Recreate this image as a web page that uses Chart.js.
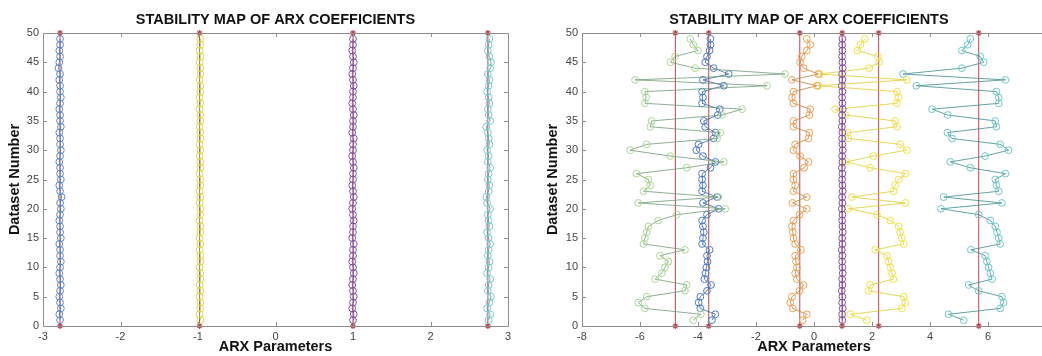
<!DOCTYPE html>
<html>
<head>
<meta charset="utf-8">
<script src="https://cdn.jsdelivr.net/npm/chart.js@4.4.1/dist/chart.umd.min.js"></script>
<style>
  html, body { margin: 0; padding: 0; background: #fff; overflow: hidden; width: 1042px; height: 356px; }
  #left { position: absolute; left: 0; top: 0; }
  #right { position: absolute; left: 520px; top: 0; }
</style>
</head>
<body>
<canvas id="left" width="520" height="356"></canvas>
<canvas id="right" width="540" height="356"></canvas>
<script>
// dataset numbers 1..49 (y axis)
const datasetNumbers = [1,2,3,4,5,6,7,8,9,10,11,12,13,14,15,16,17,18,19,20,21,22,23,24,25,26,27,28,29,30,31,32,33,34,35,36,37,38,39,40,41,42,43,44,45,46,47,48,49];
const yTicks = [0,5,10,15,20,25,30,35,40,45,50];
const leftXTicks = [-3,-2,-1,0,1,2,3];
const rightXTicks = [-8,-6,-4,-2,0,2,4,6,8];
const chartTitle = 'STABILITY MAP OF ARX COEFFICIENTS';

// left plot: four stable coefficients
const leftBlue = [-2.78,-2.79,-2.77,-2.78,-2.79,-2.78,-2.77,-2.78,-2.79,-2.78,-2.77,-2.78,-2.78,-2.79,-2.77,-2.78,-2.78,-2.79,-2.78,-2.77,-2.78,-2.76,-2.78,-2.79,-2.77,-2.78,-2.78,-2.79,-2.78,-2.77,-2.78,-2.78,-2.79,-2.77,-2.78,-2.78,-2.79,-2.78,-2.77,-2.78,-2.78,-2.79,-2.78,-2.80,-2.79,-2.78,-2.79,-2.78,-2.78];
const leftYellow = [-0.97,-0.98,-0.97,-0.97,-0.98,-0.97,-0.98,-0.97,-0.97,-0.98,-0.97,-0.97,-0.98,-0.97,-0.98,-0.97,-0.97,-0.98,-0.97,-0.97,-0.98,-0.97,-0.98,-0.97,-0.97,-0.98,-0.97,-0.97,-0.98,-0.97,-0.98,-0.97,-0.97,-0.98,-0.97,-0.97,-0.98,-0.97,-0.98,-0.97,-0.97,-0.98,-0.97,-0.97,-0.98,-0.97,-0.98,-0.97,-0.97];
const leftPurple = [1.00,1.01,0.99,1.00,1.01,1.00,0.99,1.00,1.01,1.00,0.99,1.00,1.00,1.01,0.99,1.00,1.00,1.01,1.00,0.99,1.00,1.01,1.00,0.99,1.00,1.00,1.01,1.00,0.99,1.00,1.00,1.01,0.99,1.00,1.00,1.01,1.00,0.99,1.00,1.00,1.01,1.00,0.99,1.00,1.01,1.00,0.99,1.00,1.00];
const leftCyan = [2.75,2.77,2.73,2.76,2.78,2.74,2.75,2.77,2.73,2.75,2.76,2.74,2.75,2.77,2.75,2.73,2.76,2.75,2.74,2.77,2.73,2.72,2.75,2.76,2.74,2.75,2.77,2.74,2.75,2.73,2.76,2.75,2.74,2.72,2.77,2.75,2.74,2.76,2.75,2.73,2.75,2.76,2.74,2.77,2.78,2.76,2.74,2.75,2.76];
const leftMeans = [-2.78, -0.98, 1.0, 2.74];

// right plot: six fluctuating coefficients
const rightGreen = [-4.16,-3.9,-5.83,-6.06,-5.77,-4.45,-4.39,-5.48,-5.25,-5.14,-5.02,-5.31,-4.45,-5.88,-5.83,-5.77,-5.71,-5.37,-4.73,-3.06,-6.06,-3.3,-5.88,-5.65,-5.71,-6.12,-4.39,-3.11,-4.96,-6.34,-5.77,-3.34,-3.23,-5.65,-5.6,-3.17,-2.48,-5.83,-5.79,-5.83,-1.62,-6.17,-1.0,-4.1,-4.95,-4.79,-4.0,-4.16,-4.27];
const rightBlue = [-3.52,-3.4,-3.92,-3.98,-3.92,-3.69,-3.55,-3.78,-3.74,-3.71,-3.67,-3.69,-3.6,-3.86,-3.83,-3.8,-3.83,-3.86,-3.69,-3.29,-3.83,-3.34,-3.86,-3.83,-3.86,-3.86,-3.57,-3.4,-3.83,-4.06,-3.98,-3.46,-3.4,-3.75,-3.8,-3.32,-3.25,-3.86,-3.83,-3.86,-3.11,-3.83,-2.94,-3.46,-3.75,-3.69,-3.6,-3.57,-3.57];
const rightOrange = [-0.39,-0.25,-0.73,-0.82,-0.76,-0.5,-0.36,-0.59,-0.65,-0.59,-0.62,-0.65,-0.45,-0.65,-0.71,-0.73,-0.76,-0.71,-0.5,-0.25,-0.74,-0.25,-0.71,-0.65,-0.71,-0.71,-0.34,-0.19,-0.48,-0.71,-0.65,-0.19,-0.16,-0.71,-0.71,-0.16,-0.13,-0.71,-0.76,-0.71,0.1,-0.76,0.15,-0.36,-0.48,-0.42,-0.25,-0.13,-0.25];
const rightPurple = [0.98,0.97,0.99,0.97,0.98,0.96,0.98,0.97,0.99,0.98,0.97,0.98,0.96,0.98,0.97,0.99,0.98,0.97,0.98,0.96,0.98,0.97,0.99,0.98,0.97,0.98,0.96,0.98,0.97,0.99,0.98,0.97,0.98,0.96,0.98,0.97,0.99,0.98,0.97,0.98,0.96,0.98,0.97,0.99,0.98,0.97,0.98,0.97,0.98];
const rightYellow = [1.82,1.25,3.03,3.15,3.09,1.88,1.94,2.74,2.69,2.63,2.57,2.51,2.11,3.09,3.03,2.97,2.92,2.63,2.17,1.19,3.15,1.31,2.74,2.8,2.92,3.15,1.94,1.11,2.05,3.2,2.97,1.19,1.16,2.86,2.8,1.08,0.73,2.86,2.92,2.86,0.15,3.2,0.2,1.9,2.25,2.2,1.5,1.6,1.75];
const rightCyan = [5.16,4.64,6.42,6.54,6.48,5.68,5.33,6.14,6.08,6.02,5.96,5.9,5.41,6.42,6.37,6.31,6.25,6.08,5.68,4.38,6.48,4.47,6.37,6.29,6.25,6.6,5.39,4.7,5.9,6.71,6.42,4.76,4.6,6.29,6.25,4.61,4.07,6.37,6.37,6.29,3.53,6.6,3.07,5.1,5.85,5.73,5.1,5.3,5.39];
const rightMeans = [-4.78, -3.63, -0.49, 0.97, 2.23, 5.68];

const FONT = "'Liberation Sans', Arial, sans-serif";
const RED = '#c0454f';

function series(values, pointColor, lineColor) {
  return {
    data: values.map((v, i) => ({ x: v, y: datasetNumbers[i] })),
    showLine: true,
    borderColor: lineColor,
    borderWidth: 0.8,
    pointStyle: 'circle',
    pointRadius: 3.4,
    pointBorderWidth: 1,
    pointBorderColor: pointColor,
    pointBackgroundColor: 'rgba(0,0,0,0)',
    backgroundColor: 'rgba(0,0,0,0)'
  };
}

function meanLine(m) {
  return {
    data: [{ x: m, y: yTicks[0] }, { x: m, y: yTicks[yTicks.length - 1] }],
    showLine: true,
    borderColor: RED,
    borderWidth: 1,
    pointStyle: 'star',
    pointRadius: 3,
    pointBorderColor: RED,
    pointBorderWidth: 1.2,
    clip: 5
  };
}

// box around plot with inward ticks on all four sides, and the title centred over the plot
const frame = {
  id: 'frame',
  afterDatasetsDraw(chart, args, opts) {
    const { ctx, chartArea: a, scales: { x, y } } = chart;
    ctx.save();
    ctx.strokeStyle = '#8e8e8e';
    ctx.lineWidth = 1;
    ctx.strokeRect(a.left + 0.5, a.top + 0.5, a.width, a.height);
    ctx.beginPath();
    x.ticks.forEach(t => {
      const px = Math.round(x.getPixelForValue(t.value)) + 0.5;
      ctx.moveTo(px, a.bottom); ctx.lineTo(px, a.bottom - 4);
      ctx.moveTo(px, a.top); ctx.lineTo(px, a.top + 4);
    });
    y.ticks.forEach(t => {
      const py = Math.round(y.getPixelForValue(t.value)) + 0.5;
      ctx.moveTo(a.left, py); ctx.lineTo(a.left + 4, py);
      ctx.moveTo(a.right, py); ctx.lineTo(a.right - 4, py);
    });
    ctx.stroke();

    ctx.fillStyle = '#111';
    ctx.font = 'bold 14.5px ' + FONT;
    ctx.textAlign = 'center';
    ctx.textBaseline = 'middle';
    ctx.fillText(chartTitle, (a.left + a.right) / 2 + (opts.shift || 0), a.top - 13);
    ctx.restore();
  }
};

function makeChart(id, datasets, xTicks, yWidth, yTitlePad, rightPad, titleShift) {
  return new Chart(document.getElementById(id), {
    type: 'scatter',
    data: { datasets: datasets },
    plugins: [frame],
    options: {
      responsive: false,
      animation: false,
      layout: { padding: { left: 0, right: rightPad, top: 33, bottom: 0 } },
      plugins: {
        legend: { display: false },
        tooltip: { enabled: false },
        title: { display: false },
        frame: { shift: titleShift }
      },
      scales: {
        x: {
          type: 'linear',
          min: xTicks[0],
          max: xTicks[xTicks.length - 1],
          afterBuildTicks: s => { s.ticks = xTicks.map(v => ({ value: v })); },
          afterFit: s => { s.height = 30; },
          grid: { display: false, drawTicks: false },
          border: { display: false },
          ticks: { color: '#444', font: { family: FONT, size: 11 }, padding: 4 },
          title: {
            display: true,
            text: 'ARX Parameters',
            color: '#111',
            font: { family: FONT, size: 14.5, weight: 'bold' },
            padding: { top: 0, bottom: 0 }
          }
        },
        y: {
          type: 'linear',
          min: yTicks[0],
          max: yTicks[yTicks.length - 1],
          afterBuildTicks: s => { s.ticks = yTicks.map(v => ({ value: v })); },
          afterFit: s => { s.width = yWidth; },
          grid: { display: false, drawTicks: false },
          border: { display: false },
          ticks: { color: '#444', font: { family: FONT, size: 11 }, padding: 4 },
          title: {
            display: true,
            text: 'Dataset Number',
            color: '#111',
            font: { family: FONT, size: 14.5, weight: 'bold' },
            padding: { top: yTitlePad, bottom: 0 }
          }
        }
      }
    }
  });
}

makeChart('left', [
  series(leftBlue, '#5a86cc', '#4a6fa8'),
  series(leftYellow, '#d8d84a', '#9ab040'),
  series(leftPurple, '#8050a8', '#6a4a8a'),
  series(leftCyan, '#78c8d0', '#4a9a9a'),
  ...leftMeans.map(meanLine)
], leftXTicks, 43, 6.5, 12, 0);

makeChart('right', [
  series(rightGreen, '#a8d890', '#6f9a78'),
  series(rightBlue, '#4a7cc8', '#3a5f9a'),
  series(rightOrange, '#eea050', '#c08040'),
  series(rightPurple, '#7d4fa8', '#6a4a8a'),
  series(rightYellow, '#f2e040', '#e0cc30'),
  series(rightCyan, '#6cc6cc', '#3f8c8c'),
  ...rightMeans.map(meanLine)
], rightXTicks, 62, 24.5, 14, -5);
</script>
</body>
</html>
